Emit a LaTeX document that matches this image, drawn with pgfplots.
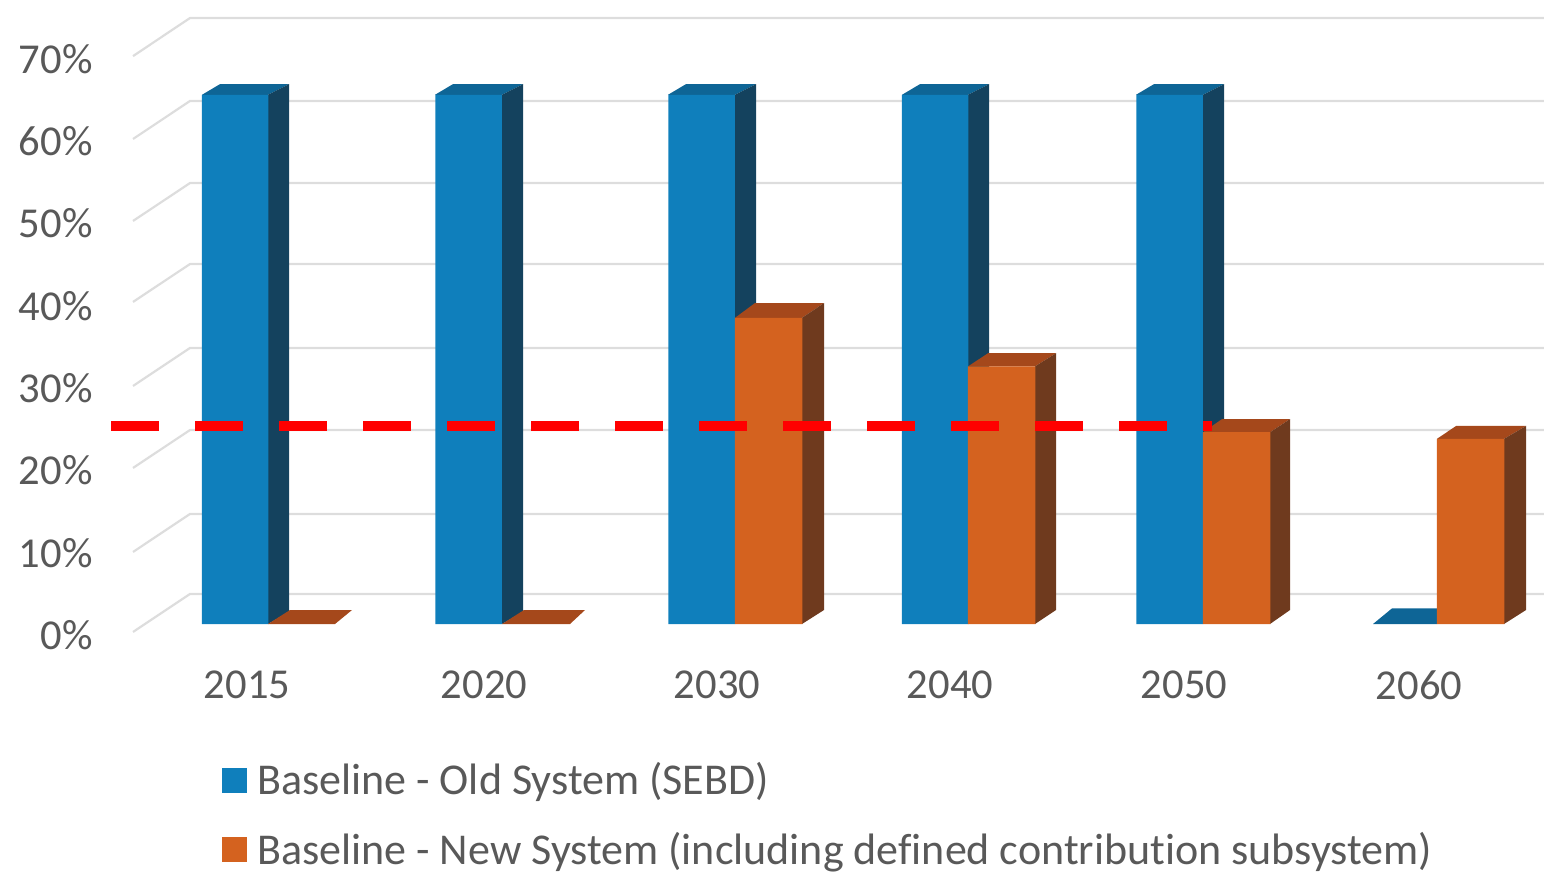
\documentclass[border=0pt]{standalone}
\usepackage{fontspec}
\setmainfont[Ligatures=NoCommon]{Carlito}
\usepackage{pgfplots}
\pgfplotsset{compat=1.18}
\definecolor{txt}{HTML}{595959}
\definecolor{gridc}{HTML}{DDDDDD}
\definecolor{bfront}{HTML}{0F7FBC}
\definecolor{bside}{HTML}{14425E}
\definecolor{btop}{HTML}{0E6596}
\definecolor{ofront}{HTML}{D4621F}
\definecolor{oside}{HTML}{6F3A1E}
\definecolor{otop}{HTML}{A5481B}
\begin{document}
\begin{tikzpicture}
\begin{axis}[
  scale only axis,
  width=772pt, height=436.5pt,
  xmin=0, xmax=1544,
  ymin=-30.255, ymax=75.82,
  axis line style={draw=none},
  tick style={draw=none},
  xtick={247,484,717,950,1184,1419},
  xticklabels={2015,2020,2030,2040,2050,2060},
  ytick={0,10,20,30,40,50,60,70},
  yticklabels={0\%,10\%,20\%,30\%,40\%,50\%,60\%,70\%},
  tick label style={font=\fontsize{21.3}{24}\selectfont, text=txt},
  xticklabel style={anchor=center, yshift=94pt},
  yticklabel style={anchor=east, inner sep=0pt, xshift=46.5pt, yshift=-5.5pt},
  legend style={at={(axis cs:222,-16.8)}, anchor=north west, draw=none, fill=none,
    font=\fontsize{22}{24}\selectfont, text=txt, row sep=17pt, inner sep=0pt,
    nodes={inner sep=0pt}},
  legend cell align=left,
  legend image code/.code={\fill[#1] (0pt,-6pt) rectangle (12pt,6pt);},
]
% legend entries first
\addlegendimage{bfront}
\addlegendentry{\hspace{5pt}Baseline - Old System (SEBD)}
\addlegendimage{ofront}
\addlegendentry{\hspace{5pt}Baseline - New System (including defined contribution subsystem)}

% gridlines: wall and back plane
\pgfplotsset{gl/.style={gridc, line width=1.1pt, forget plot}}
\addplot[gl] coordinates {(133,69.0) (190,73.63) (1544,73.63)};
\addplot[gl] coordinates {(133,58.93) (190,63.55) (1544,63.55)};
\addplot[gl] coordinates {(133,48.97) (190,53.58) (1544,53.58)};
\addplot[gl] coordinates {(133,39.13) (190,43.74) (1544,43.74)};
\addplot[gl] coordinates {(133,28.92) (190,33.54) (1544,33.54)};
\addplot[gl] coordinates {(133,18.96) (190,23.57) (1544,23.57)};
\addplot[gl] coordinates {(133,8.75) (190,13.37) (1544,13.37)};
\addplot[gl] coordinates {(133,-0.97) (190,3.65) (1544,3.65)};

% old system: top and side faces
\pgfplotsset{bt/.style={fill=btop, draw=none, forget plot}, bs/.style={fill=bside, draw=none, forget plot}}
\addplot[bt] coordinates {(202,64.3) (220,65.6) (289,65.6) (268,64.3)} --cycle;
\addplot[bs] coordinates {(268,0) (289,1.5) (289,65.6) (268,64.3)} --cycle;
\addplot[bt] coordinates {(435,64.3) (453,65.6) (523,65.6) (502,64.3)} --cycle;
\addplot[bs] coordinates {(502,0) (523,1.5) (523,65.6) (502,64.3)} --cycle;
\addplot[bt] coordinates {(668,64.3) (686,65.6) (756,65.6) (735,64.3)} --cycle;
\addplot[bs] coordinates {(735,0) (756,1.5) (756,65.6) (735,64.3)} --cycle;
\addplot[bt] coordinates {(902,64.3) (920,65.6) (989,65.6) (968,64.3)} --cycle;
\addplot[bs] coordinates {(968,0) (989,1.5) (989,65.6) (968,64.3)} --cycle;
\addplot[bt] coordinates {(1136,64.3) (1154,65.6) (1224,65.6) (1203,64.3)} --cycle;
\addplot[bs] coordinates {(1203,0) (1224,1.5) (1224,65.6) (1203,64.3)} --cycle;
\addplot[bt] coordinates {(1373,0) (1392,1.9) (1437,1.9) (1437,0)} --cycle;

% old system: front faces
\addplot[ybar, bar width=33.25pt, fill=bfront, draw=none, forget plot] coordinates {
  (235,64.3) (468.5,64.3) (701.5,64.3) (935,64.3) (1169.5,64.3)};

% new system: top and side faces
\pgfplotsset{ot/.style={fill=otop, draw=none, forget plot}, os/.style={fill=oside, draw=none, forget plot}}
\addplot[ot] coordinates {(268,0) (290,1.7) (352,1.7) (335,0)} --cycle;
\addplot[ot] coordinates {(502,0) (524,1.7) (585,1.7) (570,0)} --cycle;
\addplot[ot] coordinates {(735,37.2) (755,39.0) (824,39.0) (802,37.2)} --cycle;
\addplot[os] coordinates {(802,0) (824,1.7) (824,39.0) (802,37.2)} --cycle;
\addplot[ot] coordinates {(968,31.3) (988,32.9) (1056,32.9) (1035,31.3)} --cycle;
\addplot[os] coordinates {(1035,0) (1056,1.7) (1056,32.9) (1035,31.3)} --cycle;
\addplot[ot] coordinates {(1203,23.3) (1222,24.9) (1290,24.9) (1270,23.3)} --cycle;
\addplot[os] coordinates {(1270,0) (1290,1.7) (1290,24.9) (1270,23.3)} --cycle;
\addplot[ot] coordinates {(1437,22.5) (1456,24.06) (1526,24.06) (1504,22.5)} --cycle;
\addplot[os] coordinates {(1504,0) (1526,1.7) (1526,24.06) (1504,22.5)} --cycle;

% new system: front faces
\addplot[ybar, bar width=33.75pt, fill=ofront, draw=none, forget plot] coordinates {
  (768.5,37.2) (1001.5,31.3) (1236.5,23.3) (1470.5,22.5)};

% red dashed reference line
\addplot[red, line width=5pt, dash pattern=on 24pt off 18pt, forget plot] coordinates {(111,24.06) (1212,24.06)};
\end{axis}
\end{tikzpicture}
\end{document}
